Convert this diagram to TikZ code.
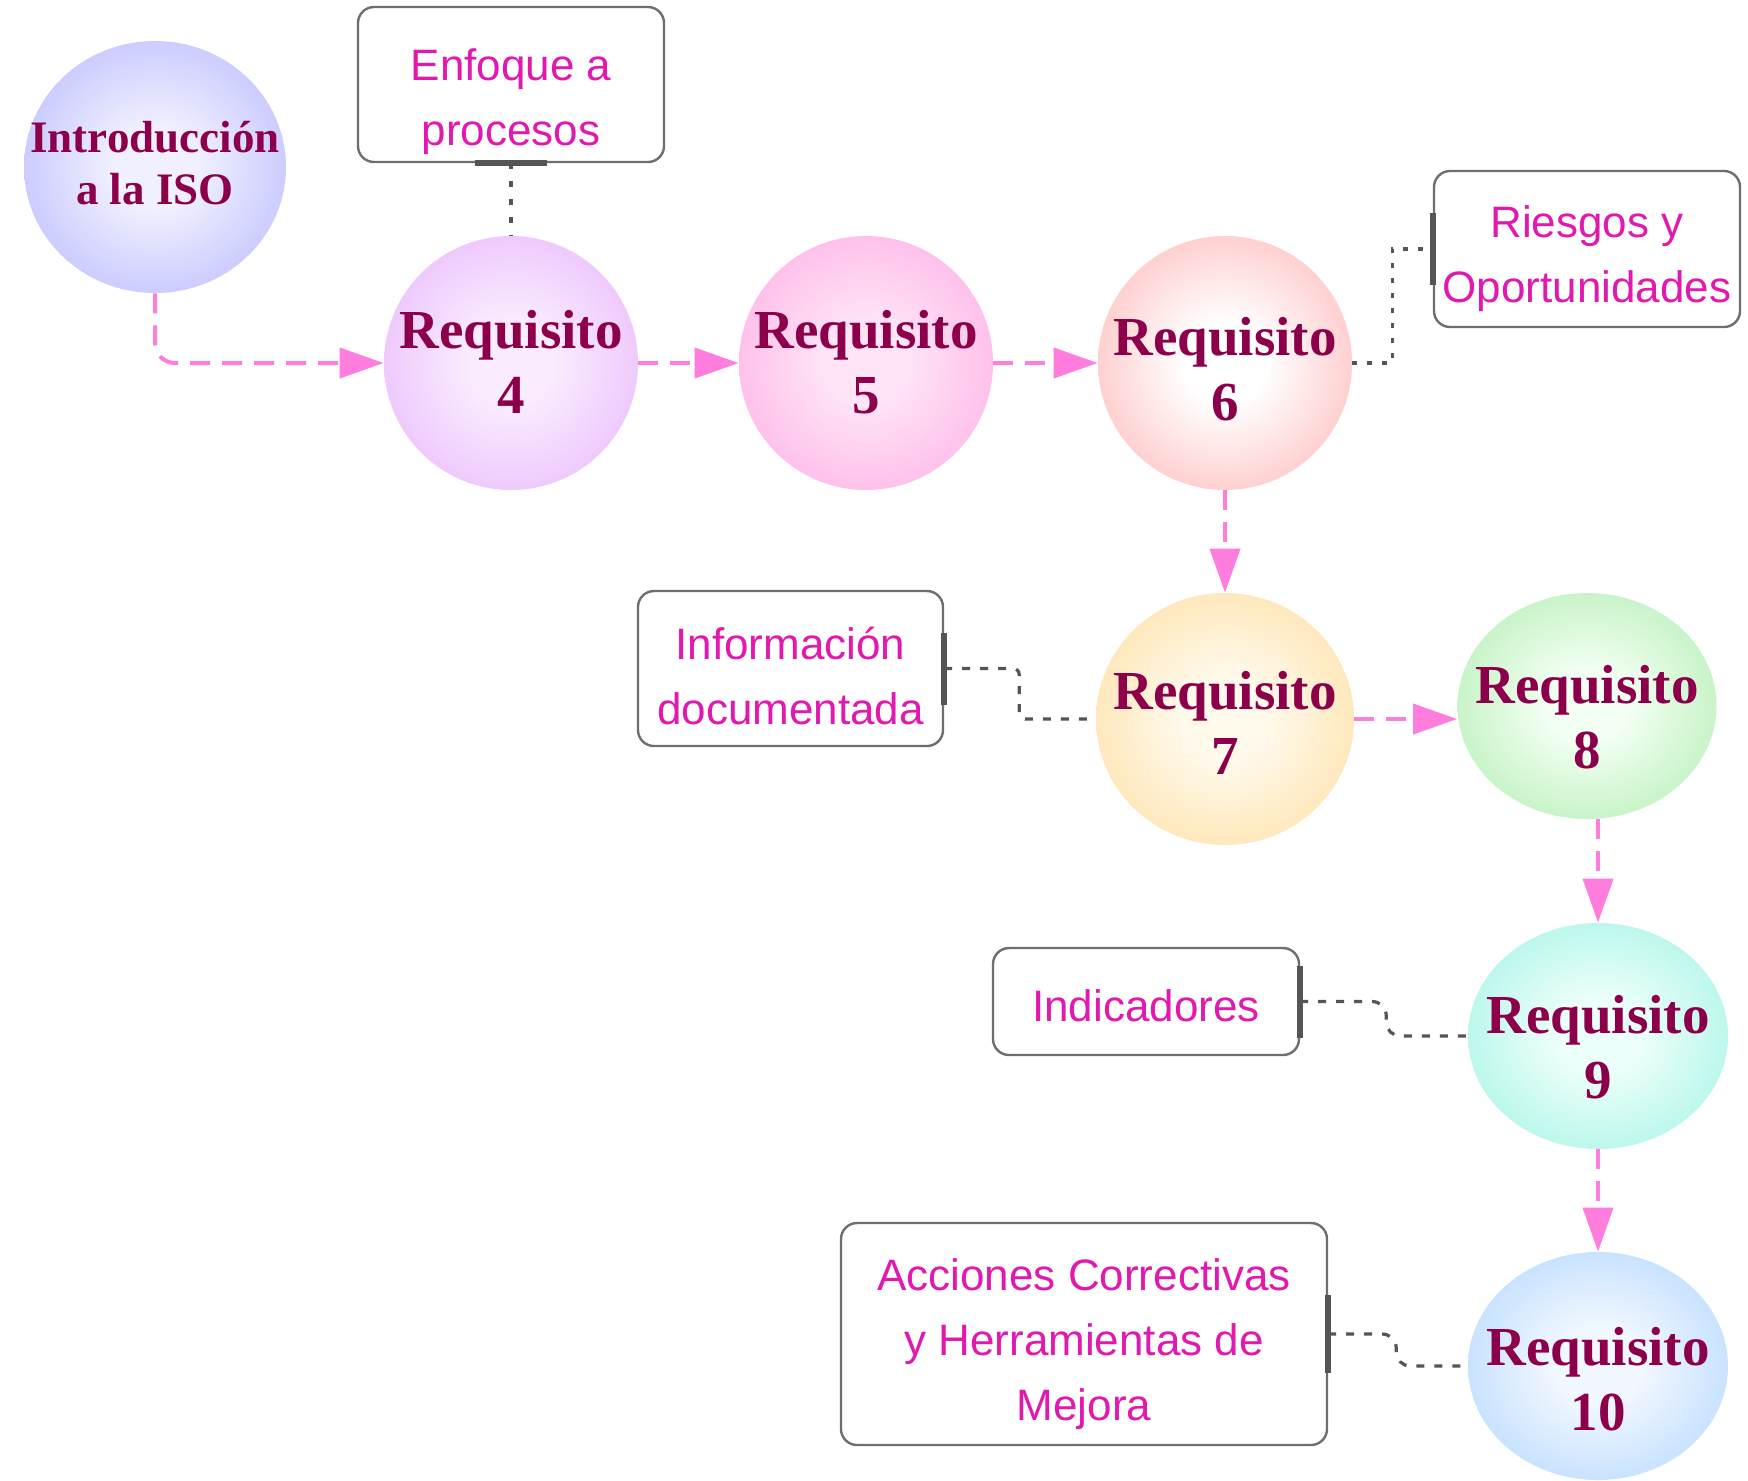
\documentclass[tikz,border=0pt]{standalone}
\usepackage{fontspec}
\setmainfont{Liberation Serif}
\newfontfamily\notefont{Liberation Sans}
\usetikzlibrary{shapes.geometric,arrows.meta}

% colours
\definecolor{reqtext}{RGB}{140,0,75}
\definecolor{notetext}{RGB}{225,25,175}
\definecolor{flowpink}{RGB}{255,125,220}
\definecolor{linkgray}{RGB}{85,85,85}
\definecolor{boxedge}{RGB}{110,110,110}
% ball colours: centre / rim
\definecolor{introIn}{RGB}{240,240,255}\definecolor{introOut}{RGB}{160,160,255}
\definecolor{fourIn}{RGB}{250,236,255}\definecolor{fourOut}{RGB}{225,160,250}
\definecolor{fiveIn}{RGB}{255,228,246}\definecolor{fiveOut}{RGB}{255,150,222}
\definecolor{sixIn}{RGB}{255,255,255}\definecolor{sixOut}{RGB}{255,150,150}
\definecolor{sevenIn}{RGB}{255,250,236}\definecolor{sevenOut}{RGB}{255,210,130}
\definecolor{eightIn}{RGB}{242,255,242}\definecolor{eightOut}{RGB}{150,230,150}
\definecolor{nineIn}{RGB}{236,255,250}\definecolor{nineOut}{RGB}{130,238,218}
\definecolor{tenIn}{RGB}{242,248,255}\definecolor{tenOut}{RGB}{150,200,255}

% soft radial ball: pale centre fading to a saturated rim
\colorlet{ballin}{white}
\colorlet{ballout}{gray}
\pgfdeclareradialshading[ballin,ballout]{softball}{\pgfpoint{0bp}{0bp}}%
  {color(0bp)=(ballin); color(8bp)=(ballin); color(46bp)=(ballout); color(50bp)=(ballout)}

% lines of text whose first baseline sits #1 above the node centre,
% taking no room so the shape keeps its own size
\newcommand\balltext[2]{\smash{\makebox[0pt]{\raisebox{#1}{\begin{tabular}[t]{@{}c@{}}#2\end{tabular}}}}}
\newcommand\notelines[2]{\smash{\raisebox{#1}{\begin{tabular}[t]{@{}c@{}}#2\end{tabular}}}}

\tikzset{
  req/.style n args={4}{ellipse, inner sep=0pt, minimum width=#1, minimum height=#2,
    /utils/exec={\colorlet{ballin}{#3}\colorlet{ballout}{#4}}, shading=softball,
    text=reqtext, font=\bfseries\fontsize{27.5}{32.5}\selectfont},
  note/.style={draw=boxedge, line width=1.2pt, rounded corners=8pt, fill=white,
    text=notetext, inner sep=0pt,
    font=\notefont\fontsize{22}{32.5}\selectfont},
  flow/.style={draw=flowpink, line width=2pt, dash pattern=on 10pt off 6pt,
    -{Triangle[length=22pt,width=15pt]}},
  link/.style={draw=linkgray, line width=1.6pt, dash pattern=on 4pt off 5pt},
  bar/.style={draw=linkgray, line width=3pt},
}

\begin{document}
\begin{tikzpicture}[x=0.5pt,y=-0.5pt]
\useasboundingbox (0,0) rectangle (1748,1480);

% balls
\node[req={131pt}{126pt}{introIn}{introOut},
      font=\bfseries\fontsize{22.5}{26}\selectfont] (intro) at (155,167) {\balltext{7.3pt}{Introducción\\a la ISO}};
\node[req={127pt}{127pt}{fourIn}{fourOut}] (r4) at (511,363) {\balltext{7.5pt}{Requisito\\4}};
\node[req={127pt}{127pt}{fiveIn}{fiveOut}] (r5) at (866,363) {\balltext{7.5pt}{Requisito\\5}};
\node[req={127pt}{127pt}{sixIn}{sixOut}] (r6) at (1225,363) {\balltext{4pt}{Requisito\\6}};
\node[req={129pt}{126pt}{sevenIn}{sevenOut}] (r7) at (1225,719) {\balltext{4.8pt}{Requisito\\7}};
\node[req={129.5pt}{113pt}{eightIn}{eightOut}] (r8) at (1587,706) {\balltext{1.1pt}{Requisito\\8}};
\node[req={130pt}{113pt}{nineIn}{nineOut}] (r9) at (1598,1036) {\balltext{1.1pt}{Requisito\\9}};
\node[req={130pt}{114pt}{tenIn}{tenOut}] (r10) at (1598,1366) {\balltext{0.5pt}{Requisito\\10}};

% note boxes
\node[note, minimum width=153pt, minimum height=77.5pt] (enf) at (511,84.5)
  {\notelines{2pt}{Enfoque a\\procesos}};
\node[note, minimum width=153pt, minimum height=78pt] (ries) at (1587,249)
  {\notelines{6pt}{Riesgos y\\Oportunidades}};
\node[note, minimum width=152.5pt, minimum height=77.5pt] (info) at (790.5,668.5)
  {\notelines{4.5pt}{Información\\documentada}};
\node[note, minimum width=153pt, minimum height=53.5pt] (ind) at (1146,1001.5)
  {\notelines{-10pt}{Indicadores}};
\node[note, minimum width=243pt, minimum height=111pt] (acc) at (1084,1334)
  {\notelines{21.8pt}{Acciones Correctivas\\y Herramientas de\\Mejora}};

% main flow
\draw[flow, rounded corners=10pt] (intro.south) |- (r4.west);
\draw[flow] (r4.east) -- (r5.west);
\draw[flow] (r5.east) -- (r6.west);
\draw[flow] (r6.south) -- (r7.north);
\draw[flow] (r7.east) -- (r7.east -| r8.west);
\draw[flow] (r8.south -| r9.north) -- (r9.north);
\draw[flow] (r9.south) -- (r10.north);

% note links
\draw[link, dash pattern=on 3pt off 6pt] (enf.south) -- (r4.north);
\draw[bar] ([xshift=-18pt]enf.south) -- ([xshift=18pt]enf.south);

\draw[link, dash pattern=on 2.5pt off 5pt] (r6.east) -- ++(40,0) |- (ries.west);
\draw[bar] ([yshift=18pt]ries.west) -- ([yshift=-18pt]ries.west);

\draw[link, rounded corners=3pt] (info.east) -- ++(75,0) |- (r7.west);
\draw[bar] ([yshift=18pt]info.east) -- ([yshift=-18pt]info.east);

\draw[link, rounded corners=7pt] (ind.east) -- ++(86,0) |- (r9.west);
\draw[bar] ([yshift=18pt]ind.east) -- ([yshift=-18pt]ind.east);

\draw[link, rounded corners=7pt] (acc.east) -- ++(68,0) |- (r10.west);
\draw[bar] ([yshift=19.5pt]acc.east) -- ([yshift=-19.5pt]acc.east);
\end{tikzpicture}
\end{document}
